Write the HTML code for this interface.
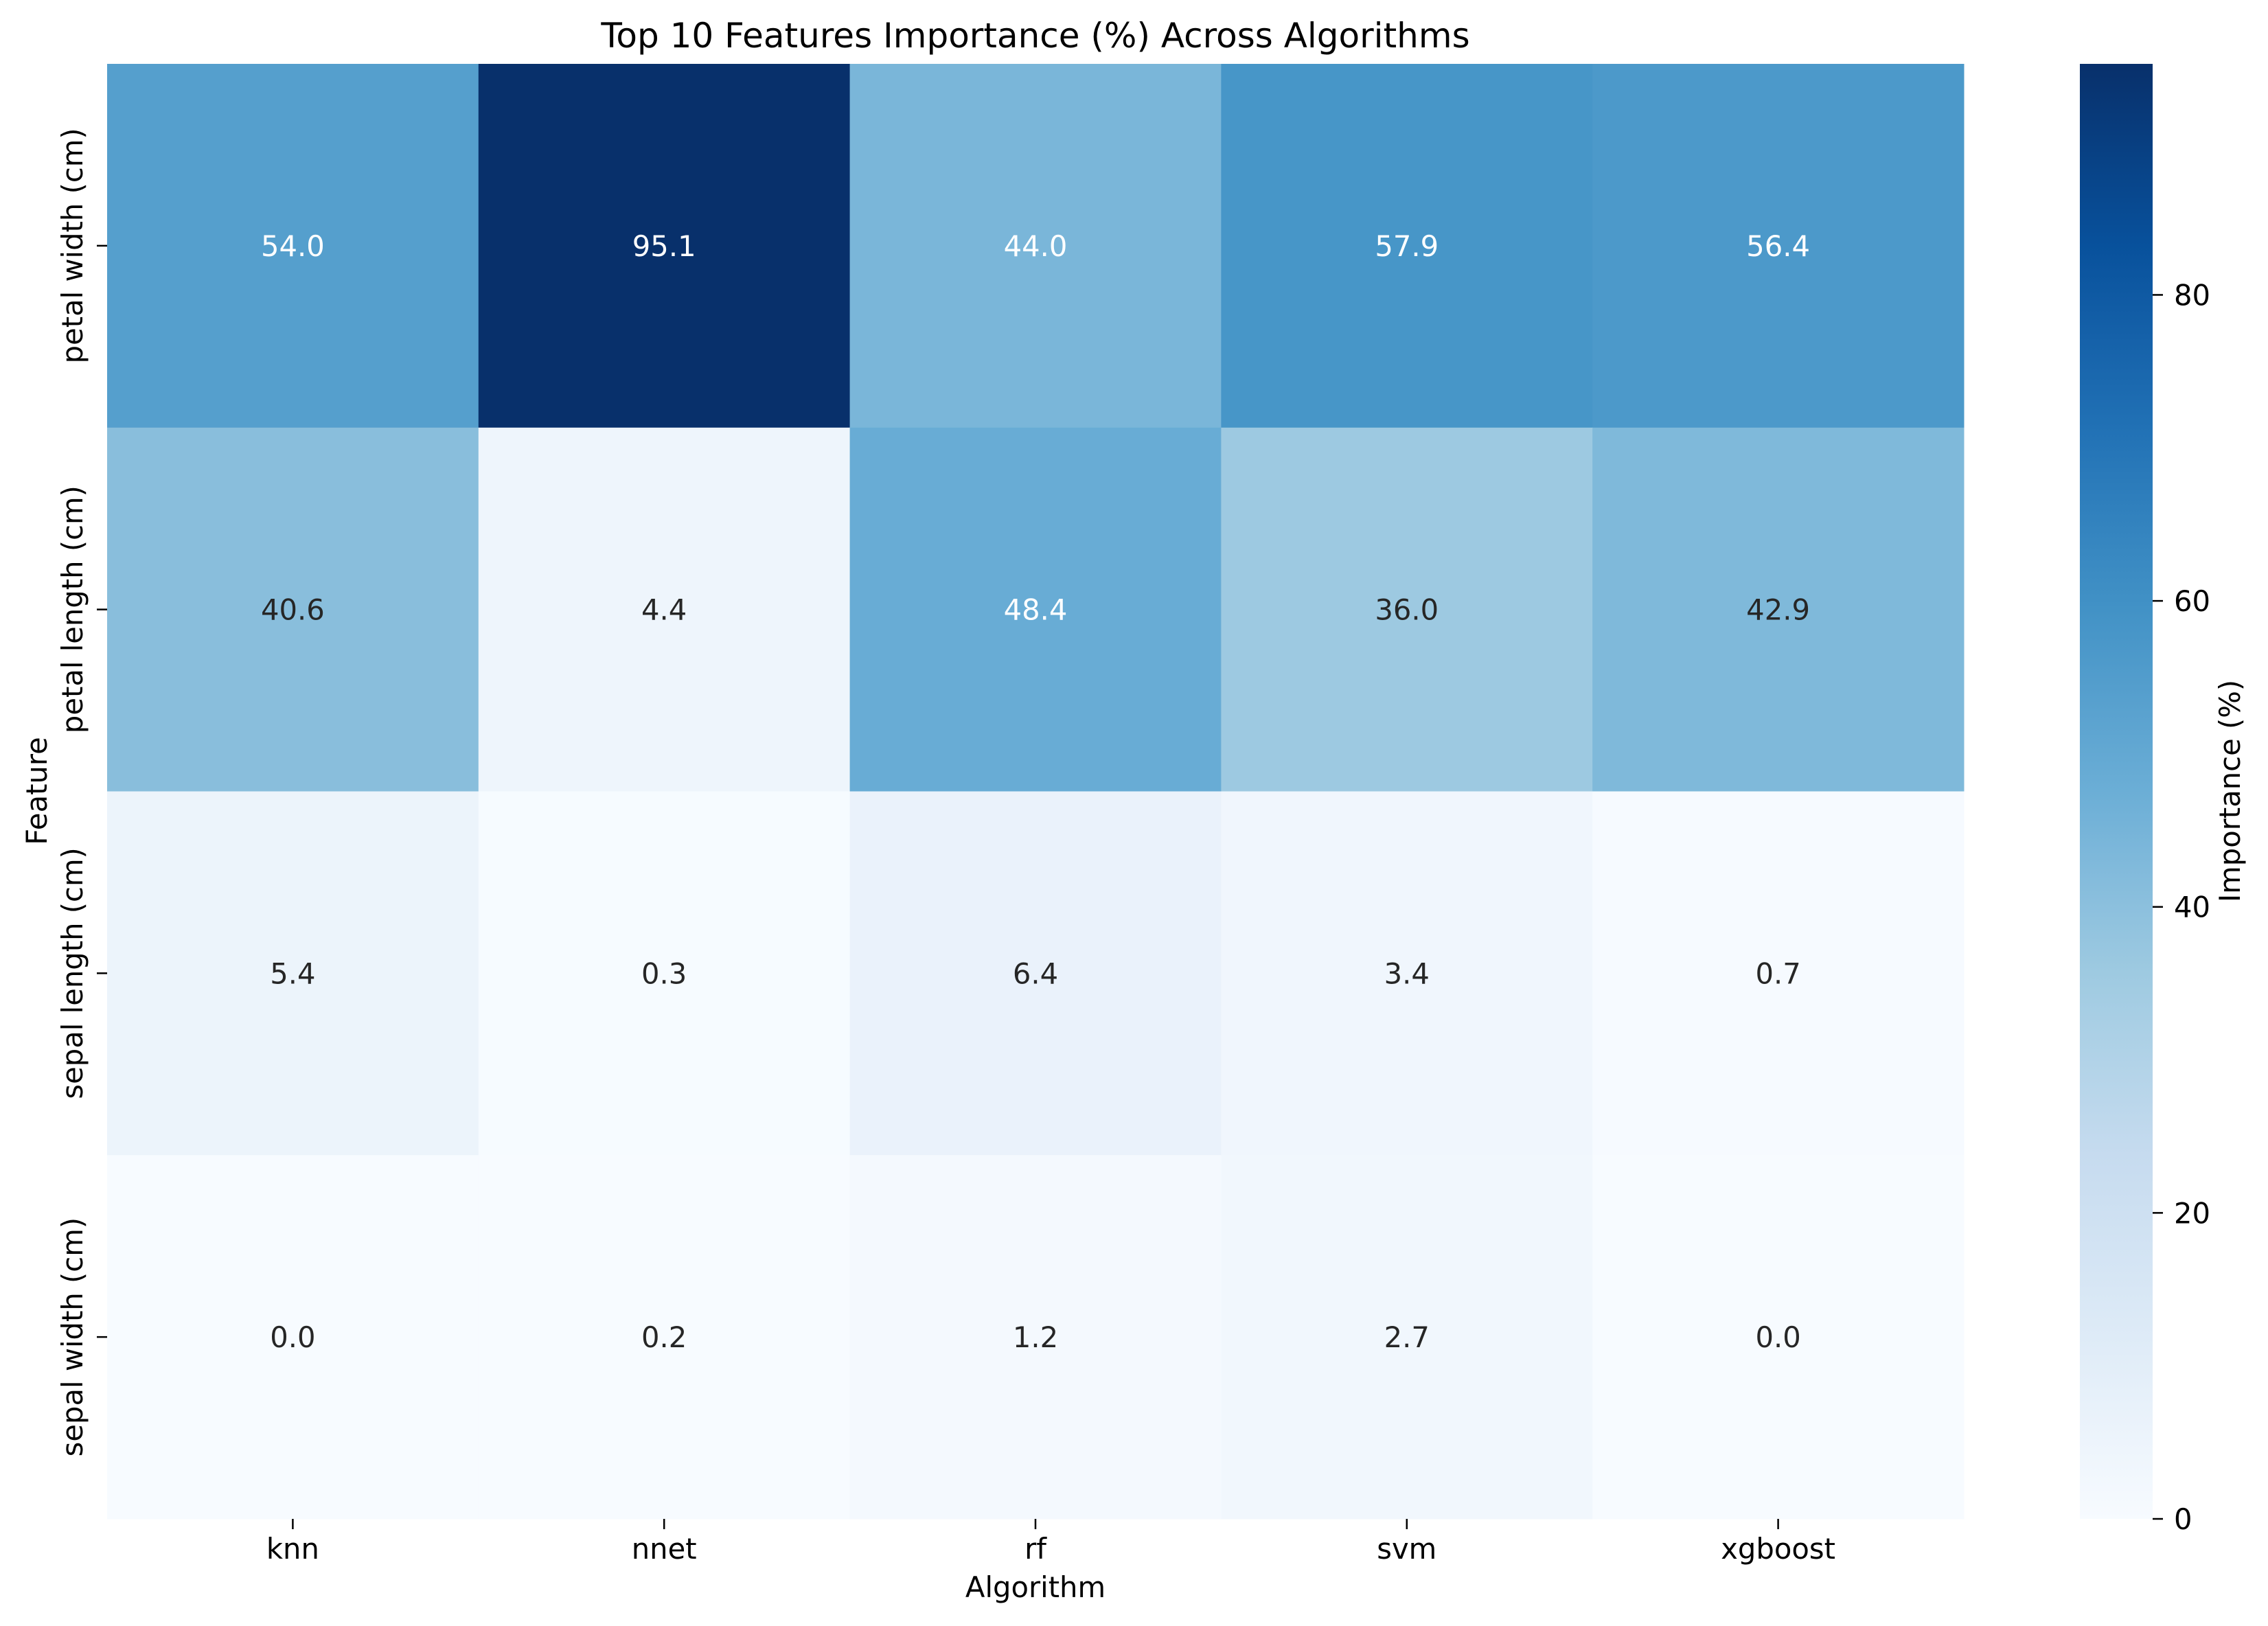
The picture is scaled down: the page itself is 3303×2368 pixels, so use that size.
<!DOCTYPE html>
<html><head><meta charset="utf-8"><style>
html,body{margin:0;padding:0;background:#fff;}
svg{display:block;font-family:"DejaVu Sans","Liberation Sans",sans-serif;}
</style></head><body>
<svg id="chart" width="3303" height="2368" viewBox="0 0 3303 2368" xmlns="http://www.w3.org/2000/svg">
<defs><linearGradient id="cbgrad" x1="0" y1="1" x2="0" y2="0"></linearGradient></defs>
<text x="1508" y="69" font-size="50" text-anchor="middle">Top 10 Features Importance (%) Across Algorithms</text>
<g id="cells"></g>
<g id="axes"></g>
<text x="0" y="0" font-size="41.7" text-anchor="middle" transform="translate(1508,2326)">Algorithm</text>
<text x="0" y="0" font-size="41.7" text-anchor="middle" transform="translate(68,1152) rotate(-90)">Feature</text>
<rect id="cbar" x="3029" y="93" width="106" height="2119" fill="url(#cbgrad)"/>
<g id="cbticks"></g>
<text x="0" y="0" font-size="41.7" text-anchor="middle" transform="translate(3262,1152) rotate(-90)">Importance (%)</text>
</svg>
<script>
const algorithms = ["knn","nnet","rf","svm","xgboost"];
const features = ["petal width (cm)","petal length (cm)","sepal length (cm)","sepal width (cm)"];
const rowPetalWidth = [54.0,95.1,44.0,57.9,56.4];
const rowPetalLength = [40.6,4.4,48.4,36.0,42.9];
const rowSepalLength = [5.4,0.3,6.4,3.4,0.7];
const rowSepalWidth = [0.0,0.2,1.2,2.7,0.0];
const cbTicks = [0,20,40,60,80];

const values = [rowPetalWidth,rowPetalLength,rowSepalLength,rowSepalWidth];
const NS = "http://www.w3.org/2000/svg";
const L=156,R=2860,T=93,B=2212;
const vmin=0, vmax=Math.max(...values.flat());
const colW=(R-L)/algorithms.length, rowH=(B-T)/features.length;
const xAt=i=>L+i*colW, yAt=j=>T+j*rowH;
const cbY=v=>B-(v-vmin)/(vmax-vmin)*(B-T);
const stops=[[247,251,255],[222,235,247],[198,219,239],[158,202,225],[107,174,214],[66,146,198],[33,113,181],[8,81,156],[8,48,107]];
function cmap(t){t=Math.max(0,Math.min(1,t));const p=t*8,i=Math.min(7,Math.floor(p)),f=p-i;
 return stops[i].map((c,k)=>Math.round(c+(stops[i+1][k]-c)*f));}
function lum(c){const a=c.map(v=>{v/=255;return v<=0.03928?v/12.92:Math.pow((v+0.055)/1.055,2.4);});return 0.2126*a[0]+0.7152*a[1]+0.0722*a[2];}
function mk(tag,attrs,parent){const e=document.createElementNS(NS,tag);for(const k in attrs)e.setAttribute(k,attrs[k]);parent.appendChild(e);return e;}
const cells=document.getElementById('cells'), axes=document.getElementById('axes');
values.forEach((row,j)=>row.forEach((v,i)=>{
 const c=cmap((v-vmin)/(vmax-vmin));
 const r=mk('rect',{x:xAt(i),y:yAt(j),width:colW+0.5,height:rowH+0.5,fill:`rgb(${c})`},cells);
 
 
 const t=mk('text',{x:xAt(i)+colW/2,y:yAt(j)+rowH/2+15,'font-size':41.7,'text-anchor':'middle',fill:lum(c)>0.435?'#262626':'#ffffff'},cells);
 t.textContent=v.toFixed(1);
 
 
}));
algorithms.forEach((a,i)=>{
 const x=xAt(i)+colW/2;
 const tk=mk('line',{x1:x,x2:x,y1:B,y2:B+15,stroke:'#000','stroke-width':2.5},axes);
 
 
 const t=mk('text',{x:x,y:B+58,'font-size':41.7,'text-anchor':'middle'},axes);
 t.textContent=a;
 
 
});
features.forEach((f,j)=>{
 const y=yAt(j)+rowH/2;
 const tk=mk('line',{x1:L-15,x2:L,y1:y,y2:y,stroke:'#000','stroke-width':2.5},axes);
 
 
 const t=mk('text',{x:0,y:0,'font-size':41.7,'text-anchor':'middle',transform:`translate(120,${y}) rotate(-90)`},axes);
 t.textContent=f;
 
 
});
const g=document.getElementById('cbgrad');
for(let k=0;k<=16;k++){const c=cmap(k/16);mk('stop',{offset:k/16,'stop-color':`rgb(${c})`},g);}
const cbt=document.getElementById('cbticks');
cbTicks.forEach(v=>{
 const y=cbY(v);
 const tk=mk('line',{x1:3135,x2:3150,y1:y,y2:y,stroke:'#000','stroke-width':2.5},cbt);
 
 
 const t=mk('text',{x:3166,y:y+15,'font-size':41.7},cbt);
 t.textContent=v;
 
 
});
</script>
</body></html>
